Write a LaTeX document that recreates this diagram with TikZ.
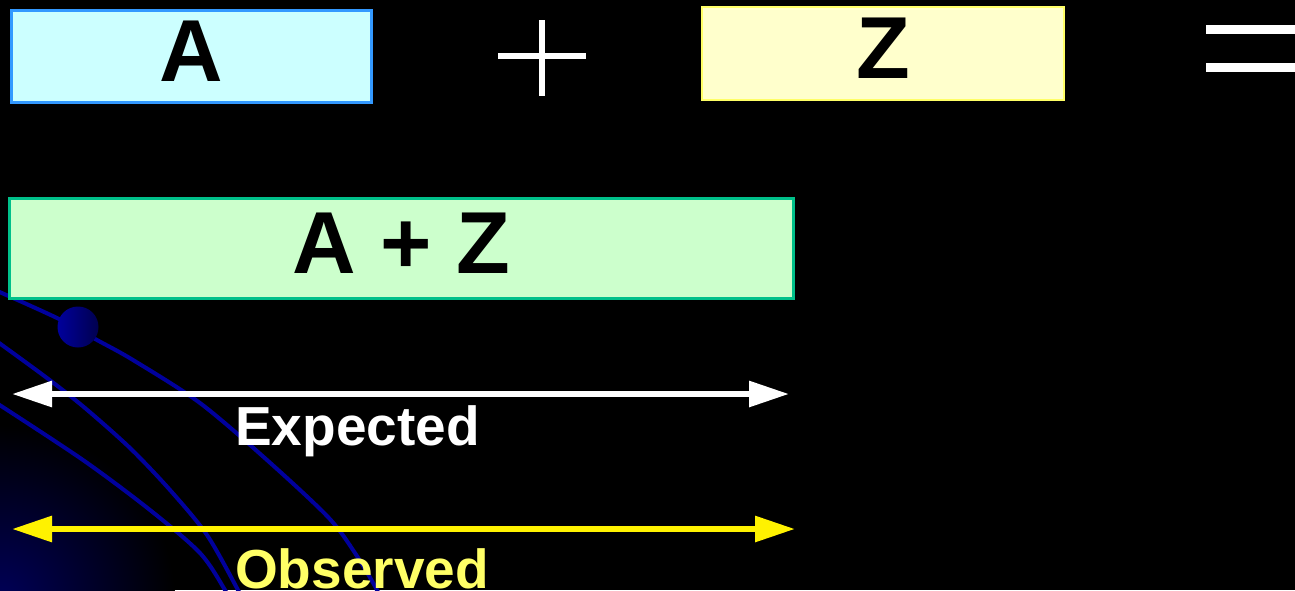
\documentclass[tikz,border=0pt]{standalone}
\usepackage{fontspec}
\setmainfont{Liberation Sans}
\usetikzlibrary{arrows.meta}
\definecolor{orbit}{HTML}{00009C}
\definecolor{aFill}{HTML}{CCFFFF}
\definecolor{aLine}{HTML}{3399FF}
\definecolor{zFill}{HTML}{FFFFCC}
\definecolor{zLine}{HTML}{FFFF66}
\definecolor{sFill}{HTML}{CCFFCC}
\definecolor{sLine}{HTML}{00C08A}
\definecolor{obsText}{HTML}{FFFF66}
\definecolor{glow}{HTML}{000058}
\tikzset{
  box/.style={inner sep=0pt, font=\fontsize{88}{88}\selectfont\bfseries, text=black,
    text height=64pt, text depth=15pt, line width=3pt},
  lbl/.style={anchor=base west, inner sep=0pt, font=\fontsize{55}{55}\selectfont\bfseries},
  orbitline/.style={draw=orbit, line width=4pt},
  sym/.style={draw=white},
  dblarrow/.style={line width=6pt, {Triangle[length=40pt,width=25pt]}-{Triangle[length=40pt,width=25pt]}}
}
\begin{document}
\begin{tikzpicture}[x=1pt,y=-1pt]
\fill[black] (0,0) rectangle (1295,590);
\useasboundingbox (0,0) rectangle (1295,590);
\clip (0,0) rectangle (1295,590);
% corner glow
\fill[inner color=glow, outer color=black] (0,600) circle (175pt);
% orbits
\draw[orbitline] plot[smooth] coordinates {(-5,290) (57,318) (97,340) (133,360) (200,403) (267,460) (328,517) (355,553) (377,590) (385,610)};
\draw[orbitline] plot[smooth] coordinates {(-5,340) (47,378) (85,408) (130,448) (170,490) (207,535) (238,590) (248,610)};
\draw[orbitline] plot[smooth] coordinates {(-5,402) (83,460) (150,510) (200,553) (225,590) (235,610)};
% planet
\shade[left color=orbit, right color=orbit!50!black] (78,327) circle (20.5pt);
% boxes
\node[box, fill=aFill, draw=aLine, minimum width=360pt, minimum height=92pt] (a) at (191.5,56.5) {A};
\node[box, fill=zFill, draw=zLine, line width=2pt, minimum width=362pt, minimum height=93pt] (z) at (883,53.5) {Z};
\node[box, fill=sFill, draw=sLine, minimum width=784pt, minimum height=100pt] (s) at (401.5,248.5) {A + Z};
% plus and equal signs
\draw[sym, line width=6pt] (542,20) -- (542,96);
\draw[sym, line width=6pt] (498,56) -- (586,56);
\draw[sym, line width=9pt] (1206,29.5) -- (1300,29.5);
\draw[sym, line width=9pt] (1206,67) -- (1300,67);
% arrows
\coordinate (e1) at (12,394);
\coordinate (e2) at (789,394);
\coordinate (o1) at (12,529);
\coordinate (o2) at (795,529);
\draw[dblarrow, white] (e1) -- (e2);
\draw[dblarrow, yellow] (o1) -- (o2);
% labels
\node[lbl, text=white] (exp) at (235,445) {Expected};
\node[lbl, text=obsText] (obs) at (235,588) {Observed};
\end{tikzpicture}
\end{document}
